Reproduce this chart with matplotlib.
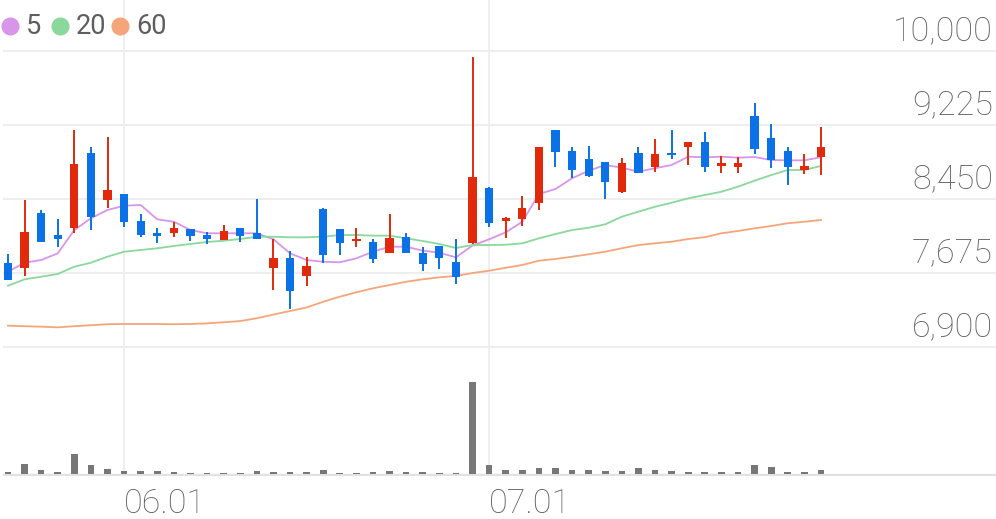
import numpy as np
import matplotlib
matplotlib.use('Agg')
import matplotlib.pyplot as plt
from matplotlib.lines import Line2D
from matplotlib.transforms import blended_transform_factory

# Daily candles (50 sessions)
opens = [7783, 7724, 8300, 8076, 8149, 8935, 8440, 8506, 8223, 8091,
         8097, 8139, 8076, 8021, 8149, 8097, 7724, 7835, 7647, 8348,
         8136, 8007, 8003, 7881, 8055, 7888, 7961, 7793, 7992, 8562,
         8220, 8241, 8405, 9170, 8953, 8866, 8841, 8526, 8935, 8785,
         8932, 8998, 9050, 8796, 8788, 9322, 9092, 8956, 8754, 8887]
highs = [7871, 8436, 8332, 8237, 9170, 8991, 9096, 8506, 8290, 8149,
         8212, 8139, 8108, 8175, 8149, 8447, 8031, 7905, 7839, 8359,
         8136, 8143, 8034, 8290, 8097, 7950, 7961, 8034, 9940, 8579,
         8265, 8481, 8998, 9170, 8998, 9008, 8841, 8876, 8998, 9075,
         9170, 9050, 9149, 8900, 8887, 9452, 9232, 8998, 8918, 9201]
lows = [7602, 7644, 7997, 7947, 8097, 8125, 8353, 8154, 8052, 7992,
        8055, 8010, 7979, 8021, 8003, 8031, 7497, 7295, 7539, 7783,
        7864, 7944, 7783, 7881, 7881, 7696, 7714, 7560, 7979, 8160,
        8038, 8170, 8335, 8788, 8673, 8684, 8450, 8510, 8719, 8730,
        8869, 8806, 8730, 8719, 8719, 8918, 8772, 8597, 8709, 8701]
closes = [7602, 8101, 8003, 8031, 8820, 8261, 8541, 8206, 8073, 8066,
          8149, 8066, 8031, 8115, 8066, 8031, 7835, 7490, 7751, 7864,
          7992, 8028, 7818, 8045, 7881, 7769, 7829, 7630, 8684, 8195,
          8254, 8359, 8998, 8945, 8754, 8694, 8625, 8830, 8719, 8924,
          8911, 9050, 8782, 8824, 8824, 8970, 8858, 8782, 8799, 8998]

# moving averages as drawn
ma5 = [7689, 7783, 7811, 7881, 8125, 8248, 8335, 8380, 8387, 8237,
       8212, 8125, 8091, 8091, 8091, 8091, 8028, 7881, 7811, 7793,
       7787, 7829, 7898, 7950, 7950, 7909, 7888, 7839, 7963, 8028,
       8101, 8212, 8502, 8555, 8667, 8746, 8806, 8778, 8736, 8772,
       8806, 8893, 8887, 8893, 8883, 8890, 8858, 8855, 8855, 8887]
ma20 = [7542, 7609, 7636, 7665, 7741, 7783, 7846, 7898, 7916, 7934,
        7958, 7979, 8000, 8013, 8031, 8055, 8055, 8049, 8049, 8055,
        8073, 8073, 8066, 8066, 8038, 8010, 7979, 7937, 7968, 7968,
        7971, 7986, 8038, 8083, 8125, 8149, 8185, 8265, 8317, 8369,
        8411, 8457, 8492, 8526, 8579, 8642, 8701, 8754, 8754, 8796]
ma60 = [7123, 7118, 7113, 7106, 7118, 7128, 7139, 7141, 7141, 7141,
        7139, 7141, 7148, 7159, 7172, 7201, 7240, 7277, 7314, 7374,
        7427, 7473, 7515, 7549, 7584, 7609, 7630, 7644, 7675, 7699,
        7730, 7759, 7804, 7822, 7846, 7871, 7898, 7934, 7968, 7986,
        8003, 8031, 8050, 8091, 8115, 8143, 8167, 8196, 8212, 8230]

# volume (thousand shares, relative)
volumes = [13, 100, 37, 13, 203, 87, 47, 23, 27, 23,
           17, 10, 10, 10, 10, 30, 17, 17, 13, 37,
           10, 10, 17, 30, 17, 13, 10, 10, 937, 93,
           43, 40, 63, 57, 40, 43, 30, 27, 57, 37,
           30, 20, 17, 13, 13, 87, 67, 20, 13, 33]

price_ticks = [6900, 7675, 8450, 9225, 10000]
date_ticks = [7, 29]
date_labels = ['06.01', '07.01']
ma_labels = ['5', '20', '60']

UP = '#e12a0c'
DOWN = '#0a72e6'
MA_COLORS = ['#d895ea', '#8ad89c', '#f6a57a']
GRID = '#eeeeee'
TEXT = '#5e5e5e'

plt.rcParams['font.family'] = ['Roboto', 'DejaVu Sans']


def main():
    fig = plt.figure(figsize=(9.96, 5.19), dpi=100)
    ax = fig.add_axes([0, 1 - 360 / 519, 1, 360 / 519])
    axv = fig.add_axes([0, 43 / 519, 1, 116 / 519])

    x = np.arange(len(closes))
    o = np.array(opens, float)
    c = np.array(closes, float)
    colors = np.where(c >= o, UP, DOWN)

    # candles
    ax.vlines(x, lows, highs, colors=colors, lw=1.4, zorder=4)
    body = np.maximum(np.abs(c - o), 18)
    ax.bar(x, body, bottom=np.minimum(o, c), width=0.5, color=colors, zorder=5)

    # moving averages
    for ma, col in zip([ma5, ma20, ma60], MA_COLORS):
        ax.plot(x, ma, color=col, lw=1.3, zorder=3)

    ax.set_xlim(-0.48, 59.55)
    ax.set_ylim(6764, 10534)
    vtop = max(volumes) * 1.238
    axv.set_xlim(-0.48, 59.55)
    axv.set_ylim(-vtop * 0.02, vtop)

    # grid
    for p in price_ticks:
        ax.axhline(p, xmin=0.004, color=GRID, lw=1.5, zorder=1)
    for t in date_ticks:
        ax.axvline(t, color=GRID, lw=1.3, zorder=1)
        axv.axvline(t, color=GRID, lw=1.3, zorder=1)

    # volume bars sit on a light base line
    axv.bar(x, volumes, width=0.4, color='#777777', zorder=3)
    axv.axhline(-vtop * 0.011, xmin=0.004, color='#e2e2e2', lw=1.7, zorder=2)

    for a in (ax, axv):
        a.set_xticks([])
        a.set_yticks([])
        for s in a.spines.values():
            s.set_visible(False)
        a.patch.set_alpha(0)

    # price labels on the right
    tr = blended_transform_factory(ax.transAxes, ax.transData)
    for p in price_ticks:
        ax.annotate(f'{p:,}', xy=(993 / 996, p), xycoords=tr,
                    xytext=(0, 7.5), textcoords='offset points',
                    ha='right', va='baseline', fontsize=24.5,
                    fontweight='light', color=TEXT)

    # date labels
    for t, lab in zip(date_ticks, date_labels):
        axv.annotate(lab, xy=(t, 6 / 519), xycoords=('data', 'figure fraction'),
                     ha='left', va='baseline', fontsize=24.5,
                     fontweight='light', color=TEXT)

    # legend
    for lab, col, cx in zip(ma_labels, MA_COLORS, [10, 60, 120]):
        fig.add_artist(Line2D([cx / 996], [1 - 26 / 519], marker='o', ms=12,
                              color=col, transform=fig.transFigure, lw=0))
        fig.text((cx + 16) / 996, 1 - 26 / 519, lab, ha='left', va='center',
                 fontsize=19.5, color=TEXT)

    fig.savefig('out.png', dpi=100)


if __name__ == '__main__':
    main()
